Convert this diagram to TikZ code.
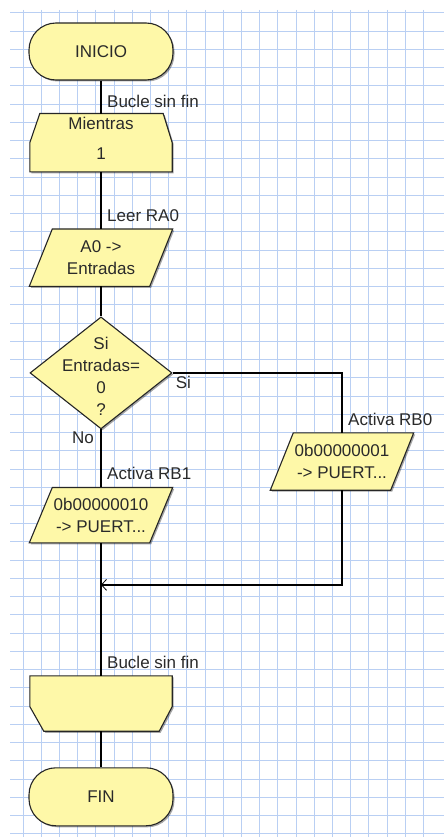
\documentclass[tikz,border=0pt]{standalone}
\usepackage{fontspec}
\setmainfont{Liberation Sans}
\usepackage{tikz}
\usetikzlibrary{positioning, arrows.meta, shapes.geometric, shadows, backgrounds, calc}
\definecolor{cfill}{HTML}{FEF8A8}
\definecolor{cgrid}{HTML}{B9CFF3}
\definecolor{ctext}{HTML}{2A2A2A}
\tikzset{
  shd/.style={drop shadow={shadow xshift=1.5pt, shadow yshift=-1.5pt, opacity=0.35, fill=black}},
  term/.style={draw=black!85, fill=cfill, rounded corners=27pt, line width=1.1pt,
               minimum width=144pt, minimum height=57pt, inner sep=0pt, shd},
  io/.style={minimum width=143pt, minimum height=57pt, inner sep=0pt, align=center},
  dec/.style={diamond, draw=black!85, fill=cfill, line width=1.1pt,
              minimum width=142pt, minimum height=112pt, inner sep=0pt, shd},
  loopbox/.style={minimum width=142pt, inner sep=0pt, align=center},
  outl/.style={draw=black!85, fill=cfill, line width=1.1pt, shd},
  lbl/.style={inner sep=1pt},
  gridln/.style={cgrid, line width=1pt},
  ln/.style={black, line width=1.3pt},
  joinarr/.style={black, line width=1.3pt, -{Straight Barb[length=5pt, width=11pt, line width=0.8pt]}},
}
\newcommand{\paraoutline}[1]{%
  \path[outl] (#1.south west) -- ($(#1.south east)+(-23,0)$) -- (#1.north east)
    -- ($(#1.north west)+(23,0)$) -- cycle;}

\begin{document}
\begin{tikzpicture}[x=1pt, y=1pt, font=\fontsize{17}{22}\selectfont, text=ctext]
  \useasboundingbox (0,0) rectangle (444,-837);
  % ---------- main column ----------
  \node[term] (ini) at (101,-51.5) {INICIO};
  \node[loopbox, minimum height=58pt, below=33pt of ini,
        label={[align=center, yshift=4pt]center:{Mientras\\[8pt]1}}] (mien) {};
  \node[io, below=57pt of mien] (rda) {A0 -\rlap{}>\\Entradas};
  \node[dec, below=30pt of rda, label={[align=center, yshift=-3pt]center:{Si\\Entradas=\\0\\?}}] (cond) {};
  \node[io, below=58pt of cond, minimum height=55pt] (rb1) {0b00000010\\-\rlap{}> PUERT...};
  \coordinate[below=42pt of rb1.south] (join);
  \node[loopbox, minimum height=55pt, below=133pt of rb1] (endl) {};
  \node[term, below=36pt of endl, minimum height=58pt] (fin) {FIN};
  % ---------- Si branch ----------
  \node[io] (rb0) at (342,-461.5) {0b00000001\\-\rlap{}> PUERT...};
  % ---------- grid + outlines ----------
  \begin{scope}[on background layer]
    \fill[white] (0,0) rectangle (444,-837);
    \foreach \gx in {0,...,22} \draw[gridln] ({23+18.2*\gx},-10) -- ({23+18.2*\gx},-837);
    \foreach \gy in {0,...,45} \draw[gridln] (10,{-13-18.24*\gy}) -- (444,{-13-18.24*\gy});
    \path[outl] (mien.south west) -- (mien.south east) -- (mien.east)
      -- ($(mien.north east)+(-9,0)$) -- ($(mien.north west)+(10,0)$) -- (mien.west) -- cycle;
    \path[outl] (endl.north west) -- (endl.north east) -- ($(endl.east)+(0,-3)$)
      -- ($(endl.south east)+(-13,0)$) -- ($(endl.south west)+(14,0)$) -- ($(endl.west)+(0,-3)$) -- cycle;
    \paraoutline{rda}
    \paraoutline{rb1}
    \paraoutline{rb0}
  \end{scope}
  % ---------- connectors ----------
  \draw[ln] (ini) -- (mien);
  \draw[ln] (mien) -- (rda);
  \draw[ln] (rda) -- (cond);
  \draw[ln] (cond) -- (rb1);
  \draw[ln] (rb1) -- (endl);
  \draw[ln] (endl) -- (fin);
  \draw[ln] (cond.east) -| (rb0.north);
  \draw[joinarr] (rb0.south) |- (join);
  % ---------- labels ----------
  \node[lbl, above right=5pt and 5pt of mien.north] (l1) {Bucle sin fin};
  \node[lbl, above right=6pt and 5pt of rda.north] (l2) {Leer RA0};
  \node[lbl, below right=2pt and 2pt of cond.east] (l3) {Si};
  \node[lbl, below left=1pt and 6pt of cond.south] (l4) {No};
  \node[lbl, above right=6pt and 5pt of rb0.north] (l5) {Activa RB0};
  \node[lbl, above right=7pt and 5pt of rb1.north] (l6) {Activa RB1};
  \node[lbl, above right=6pt and 5pt of endl.north] (l7) {Bucle sin fin};
\end{tikzpicture}
\end{document}
